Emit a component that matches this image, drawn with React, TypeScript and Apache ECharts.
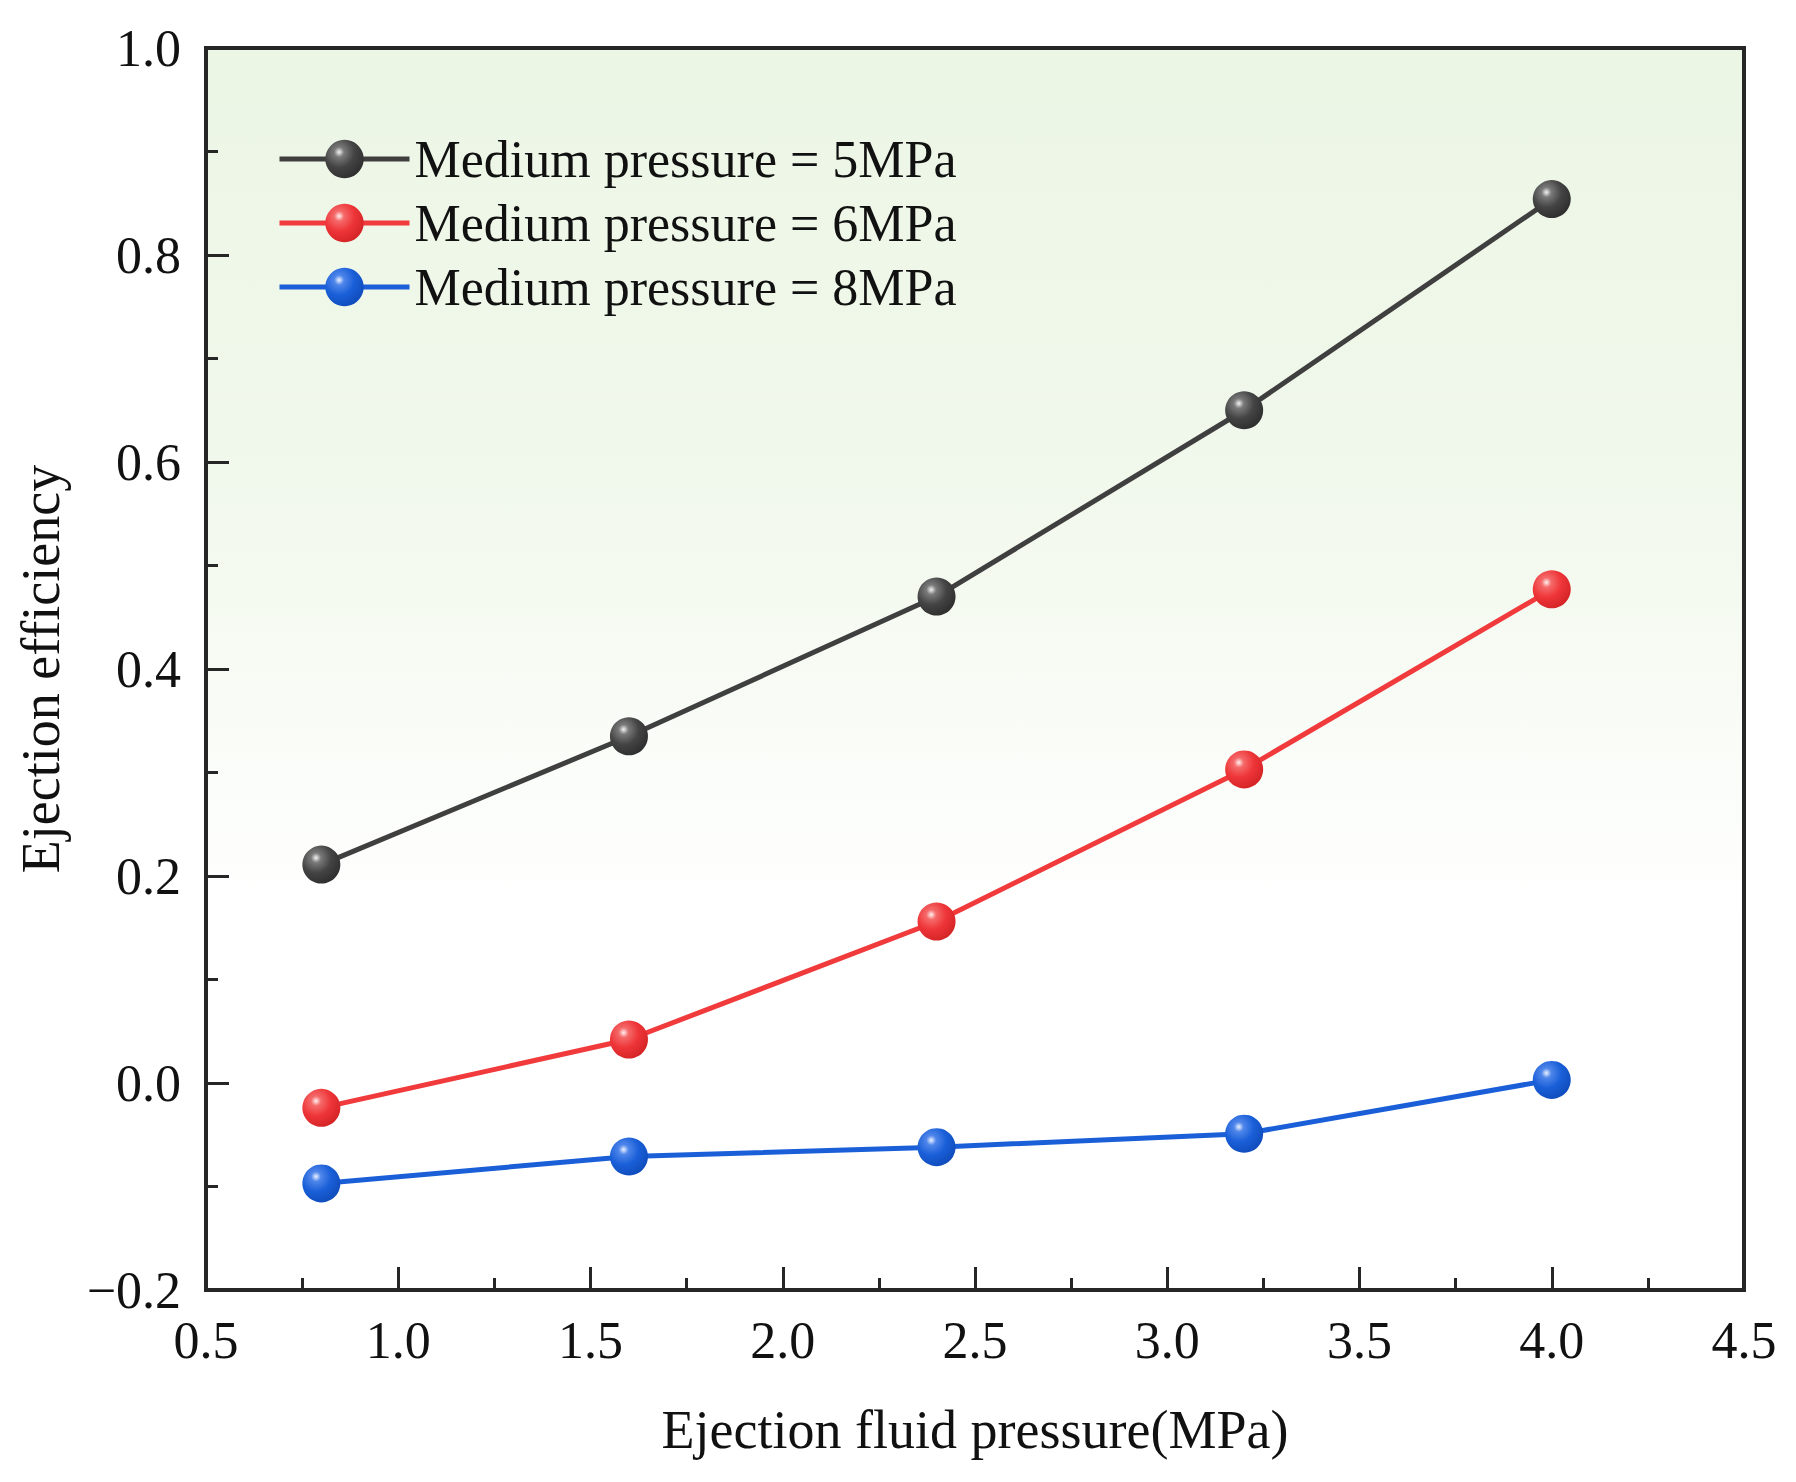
import React, { useEffect, useRef } from "react";
import * as echarts from "echarts";

const xValues = [0.8, 1.6, 2.4, 3.2, 4.0];
const seriesNames = [
  "Medium pressure = 5MPa",
  "Medium pressure = 6MPa",
  "Medium pressure = 8MPa",
];
const medium5 = [0.211, 0.335, 0.47, 0.65, 0.854];
const medium6 = [-0.024, 0.042, 0.156, 0.303, 0.477];
const medium8 = [-0.097, -0.071, -0.062, -0.049, 0.003];
const seriesValues = [medium5, medium6, medium8];
const lineColors = ["#3f3f3f", "#f03a3c", "#1a5fd8"];
const ballStops = [
  ["#f2f2f2", "#7a7a7a", "#444444", "#2e2e2e"],
  ["#fff0f0", "#f56a6a", "#ee3538", "#d42426"],
  ["#eaf2ff", "#4f86ea", "#1a5fd8", "#104cbc"],
];

const FONT = "'Liberation Serif', 'Times New Roman', serif";

function ball(i: number) {
  const s = ballStops[i];
  return {
    type: "radial",
    x: 0.36,
    y: 0.32,
    r: 0.72,
    colorStops: [
      { offset: 0, color: s[0] },
      { offset: 0.18, color: s[1] },
      { offset: 0.55, color: s[2] },
      { offset: 1, color: s[3] },
    ],
  };
}

export default function App() {
  const ref = useRef<HTMLDivElement>(null);
  useEffect(() => {
    document.body.style.margin = "0";
    if (!ref.current) return;
    const chart = echarts.init(ref.current, undefined, { renderer: "svg" });
    const series = seriesValues.map((vals, i) => ({
      name: seriesNames[i],
      type: "line",
      data: xValues.map((x, j) => [x, vals[j]]),
      symbol: "circle",
      symbolSize: 38,
      lineStyle: { color: lineColors[i], width: 5 },
      itemStyle: { color: ball(i), borderWidth: 0 },
      z: 3 + i,
    }));
    chart.setOption({
      animation: false,
      backgroundColor: "#ffffff",
      grid: {
        left: 206,
        right: 52,
        top: 48,
        bottom: 192,
        show: true,
        borderColor: "#262626",
        borderWidth: 4,
        backgroundColor: {
          type: "linear",
          x: 0,
          y: 0,
          x2: 0,
          y2: 1,
          colorStops: [
            { offset: 0, color: "#ecf6e5" },
            { offset: 0.35, color: "#f1f8ec" },
            { offset: 0.7, color: "#ffffff" },
            { offset: 1, color: "#ffffff" },
          ],
        },
      },
      legend: {
        orient: "vertical",
        left: 272,
        top: 128,
        itemWidth: 130,
        itemHeight: 48,
        itemGap: 12,
        lineStyle: { width: 5 },
        textStyle: { fontFamily: FONT, fontSize: 52, lineHeight: 48, color: "#111111" },
        data: seriesNames,
      },
      xAxis: {
        type: "value",
        min: 0.5,
        max: 4.5,
        interval: 0.5,
        name: "Ejection fluid pressure(MPa)",
        nameLocation: "middle",
        nameGap: 113,
        nameTextStyle: { fontFamily: FONT, fontSize: 54, color: "#111111" },
        axisLine: { show: true, onZero: false, lineStyle: { color: "#262626", width: 4 } },
        axisTick: { show: true, inside: true, length: 23, lineStyle: { color: "#262626", width: 3 } },
        minorTick: { show: true, splitNumber: 2, length: 12, lineStyle: { color: "#262626", width: 3 } },
        splitLine: { show: false },
        minorSplitLine: { show: false },
        axisLabel: {
          margin: 24,
          fontFamily: FONT,
          fontSize: 52,
          color: "#111111",
          formatter: (v: number) => v.toFixed(1),
        },
      },
      yAxis: {
        type: "value",
        min: -0.2,
        max: 1.0,
        interval: 0.2,
        name: "Ejection efficiency",
        nameLocation: "middle",
        nameGap: 138,
        nameTextStyle: { fontFamily: FONT, fontSize: 54, color: "#111111" },
        axisLine: { show: true, onZero: false, lineStyle: { color: "#262626", width: 4 } },
        axisTick: { show: true, inside: true, length: 23, lineStyle: { color: "#262626", width: 3 } },
        minorTick: { show: true, splitNumber: 2, length: 12, lineStyle: { color: "#262626", width: 3 } },
        splitLine: { show: false },
        minorSplitLine: { show: false },
        axisLabel: {
          margin: 25,
          fontFamily: FONT,
          fontSize: 52,
          color: "#111111",
          formatter: (v: number) => v.toFixed(1).replace("-", "\u2212"),
        },
      },
      series,
    });
    return () => chart.dispose();
  }, []);
  return <div ref={ref} style={{ width: 1796, height: 1482 }} />;
}
